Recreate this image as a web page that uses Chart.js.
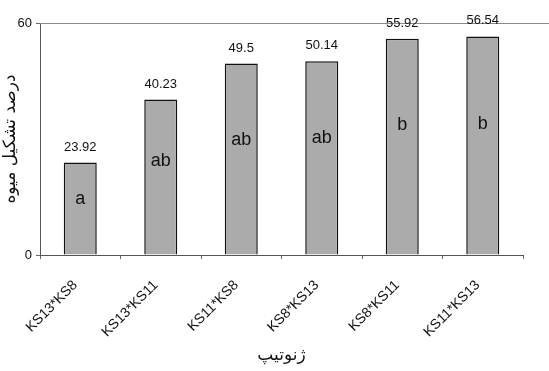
<!DOCTYPE html>
<html>
<head>
<meta charset="utf-8">
<script src="https://cdn.jsdelivr.net/npm/chart.js@4/dist/chart.umd.min.js"></script>
<style>
html,body{margin:0;padding:0;background:#fff;}
#wrap{width:549px;height:371px;}
</style>
</head>
<body>
<div id="wrap"><canvas id="c" width="549" height="371"></canvas></div>
<script>
const categories = ["KS13*KS8","KS13*KS11","KS11*KS8","KS8*KS13","KS8*KS11","KS11*KS13"];
const values = [23.92, 40.23, 49.5, 50.14, 55.92, 56.54];
const valueLabels = ["23.92","40.23","49.5","50.14","55.92","56.54"];
const groupLetters = ["a","ab","ab","ab","b","b"];
const yTicks = [0, 60];
const yTitle = "درصد تشکیل میوه";
const xTitle = "ژنوتیپ";

const labelPlugin = {
  id: 'labels',
  afterDatasetsDraw(chart) {
    const ctx = chart.ctx;
    const meta = chart.getDatasetMeta(0);
    ctx.save();
    meta.data.forEach((bar, i) => {
      ctx.fillStyle = '#111';
      ctx.textAlign = 'center';
      ctx.textBaseline = 'bottom';
      ctx.font = '13px "Liberation Sans", Arial, sans-serif';
      ctx.fillText(valueLabels[i], bar.x, bar.y - 9);
      ctx.textBaseline = 'middle';
      ctx.font = '18px "Liberation Sans", Arial, sans-serif';
      const ly = bar.base - (bar.base - bar.y) * 0.6;
      ctx.fillText(groupLetters[i], bar.x, ly);
    });
    ctx.restore();
  },
  beforeDatasetsDraw(chart) {
    const ctx = chart.ctx, a = chart.chartArea;
    ctx.save();
    ctx.strokeStyle = '#8a8a8a';
    ctx.lineWidth = 1;
    ctx.beginPath();
    ctx.moveTo(a.left, a.top + 0.5);
    ctx.lineTo(chart.width, a.top + 0.5);
    ctx.stroke();
    ctx.restore();
  }
};

new Chart(document.getElementById('c'), {
  type: 'bar',
  data: {
    labels: categories,
    datasets: [{
      data: values,
      backgroundColor: '#ababab',
      borderColor: '#111',
      borderWidth: 1.5,
      barPercentage: 0.41,
      categoryPercentage: 1.0
    }]
  },
  options: {
    responsive: false,
    animation: false,
    layout: { padding: { top: 23, right: 26, left: 0, bottom: 0 } },
    plugins: { legend: { display: false }, tooltip: { enabled: false } },
    scales: {
      x: {
        grid: { display: true, offset: true, drawOnChartArea: false, drawTicks: true, tickLength: 4, color: '#666' },
        border: { display: true, color: '#555', width: 1 },
        ticks: {
          maxRotation: 45, minRotation: 45, color: '#111', padding: 18, labelOffset: -5,
          font: { family: '"Liberation Sans", Arial, sans-serif', size: 14 }
        },
        title: {
          display: true, text: xTitle, color: '#111',
          font: { family: '"DejaVu Sans", serif', size: 17 },
          padding: { top: 4, bottom: 5 }
        },
        afterFit(scale) { scale.height = 116; }
      },
      y: {
        min: 0, max: 60,
        afterBuildTicks(scale) { scale.ticks = yTicks.map(v => ({ value: v })); },
        grid: { display: true, drawOnChartArea: false, drawTicks: true, tickLength: 4, color: '#666' },
        border: { display: true, color: '#555', width: 1 },
        ticks: {
          color: '#111', padding: 4,
          font: { family: '"Liberation Sans", Arial, sans-serif', size: 13 }
        },
        title: {
          display: true, text: yTitle, color: '#111',
          font: { family: '"DejaVu Sans", serif', size: 17 },
          padding: { top: 0, bottom: 2 }
        },
        afterFit(scale) { scale.width = 40; }
      }
    }
  },
  plugins: [labelPlugin]
});
</script>
</body>
</html>
